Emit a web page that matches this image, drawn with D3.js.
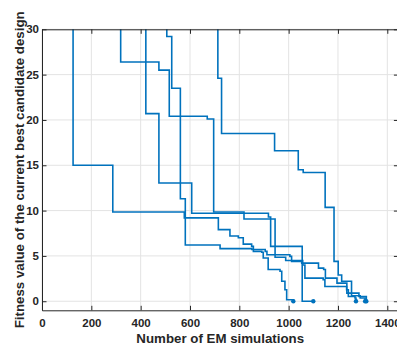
<!DOCTYPE html>
<html>
<head>
<meta charset="utf-8">
<script src="https://cdn.jsdelivr.net/npm/d3@7"></script>
<style>
  html, body { margin: 0; padding: 0; background: #fff; overflow: hidden; }
  svg { display: block; font-family: "Liberation Sans", Arial, sans-serif; }
</style>
</head>
<body>
<svg id="chart" width="397" height="347"></svg>
<script>
// Optimisation runs: [number of EM simulations, fitness of current best design]
const run1 = [[126,31],[126,15.0],[287,9.85],[577,9.2],[715,7.9],[762,7.2],[796,7.0],[816,6.3],[850,6.05],[857,5.5],[891,5.4],[897,4.77],[917,3.5],[965,3.3],[972,2.2],[985,1.27],[992,0.17],[1019,0]];
const run2 = [[319,31],[319,26.4],[474,25.5],[516,20.4],[670,20.1],[696,9.85],[819,9.07],[945,4.85],[988,4.5],[1057,4.0],[1066,2.55],[1140,2.37],[1147,1.63],[1235,1.27],[1242,0.53],[1269,0.35],[1273,0]];
const run3 = [[421,31],[421,20.7],[474,13.05],[607,9.7],[918,9.3],[927,6.05],[1055,0],[1100,0]];
const run4 = [[506,31],[506,29.2],[526,23.5],[561,11.3],[581,6.2],[722,5.8],[851,5.7],[905,5.5],[912,5.13],[1005,4.95],[1012,4.4],[1053,4.2],[1121,3.65],[1142,3.5],[1149,2.55],[1196,2.0],[1236,0.9],[1285,0.53],[1315,0]];
const run5 = [[713,31],[713,24.6],[728,18.5],[943,16.6],[1039,14.5],[1059,14.2],[1148,10.35],[1184,4.4],[1201,2.9],[1215,2.2],[1255,0.6],[1290,0.35],[1310,0]];
const runs = [run1, run2, run3, run4, run5];

const xTicks = [0, 200, 400, 600, 800, 1000, 1200, 1400];
const yTicks = [0, 5, 10, 15, 20, 25, 30];
const xTitle = "Number of EM simulations";
const yTitle = "Fitness value of the current best candidate design";

const axisColor = "#262626";
const gridColor = "#e3e3e3";
const lineColor = "#0072BD";

const plotLeft = 42, plotRight = 398.4, plotTop = 29.3, plotBottom = 310.3;

const svg = d3.select("#chart");
const x = d3.scaleLinear().domain([0, 1445]).range([plotLeft, plotRight]);
const y = d3.scaleLinear().domain([-1, 30]).range([plotBottom, plotTop]);

svg.append("defs").append("clipPath").attr("id", "plotClip")
  .append("rect").attr("x", plotLeft).attr("y", plotTop)
  .attr("width", plotRight - plotLeft).attr("height", plotBottom - plotTop);

// grid
const grid = svg.append("g");
grid.selectAll(".gx").data(xTicks).join("line")
  .attr("x1", d => x(d)).attr("x2", d => x(d))
  .attr("y1", plotTop).attr("y2", plotBottom)
  .attr("stroke", gridColor).attr("stroke-width", 1);
grid.selectAll(".gy").data(yTicks).join("line")
  .attr("x1", plotLeft).attr("x2", plotRight)
  .attr("y1", d => y(d)).attr("y2", d => y(d))
  .attr("stroke", gridColor).attr("stroke-width", 1);

// runs
const line = d3.line().x(d => x(d[0])).y(d => y(d[1])).curve(d3.curveStepAfter);
const plot = svg.append("g").attr("clip-path", "url(#plotClip)");
plot.selectAll("path.run").data(runs).join("path")
  .attr("class", "run")
  .attr("d", line)
  .attr("fill", "none")
  .attr("stroke", lineColor)
  .attr("stroke-width", 1.6);
plot.selectAll("circle.end").data(runs).join("circle")
  .attr("class", "end")
  .attr("cx", d => x(d[d.length - 1][0]))
  .attr("cy", d => y(d[d.length - 1][1]))
  .attr("r", 2.2)
  .attr("fill", lineColor);

// axes (ticks pointing inward, box on)
function styleAxis(g) {
  g.selectAll("path.domain").attr("stroke", axisColor).attr("stroke-width", 1);
  g.selectAll(".tick line").attr("stroke", axisColor).attr("stroke-width", 1);
  g.selectAll(".tick text").attr("fill", axisColor)
    .style("font-size", "11.5px").style("font-weight", "bold")
    .style("font-family", "'Liberation Sans', Arial, sans-serif");
}

const intFmt = d3.format("d");
svg.append("g").attr("transform", `translate(0,${plotBottom})`)
  .call(d3.axisBottom(x).tickValues(xTicks).tickFormat(intFmt).tickSizeInner(-4.5).tickSizeOuter(0).tickPadding(9))
  .call(styleAxis);
svg.append("g").attr("transform", `translate(0,${plotTop})`)
  .call(d3.axisTop(x).tickValues(xTicks).tickSizeInner(-4.5).tickSizeOuter(0).tickFormat(""))
  .call(styleAxis);
svg.append("g").attr("transform", `translate(${plotLeft},0)`)
  .call(d3.axisLeft(y).tickValues(yTicks).tickFormat(intFmt).tickSizeInner(-4.5).tickSizeOuter(0).tickPadding(3))
  .call(styleAxis);
svg.append("g").attr("transform", `translate(${plotRight},0)`)
  .call(d3.axisRight(y).tickValues(yTicks).tickSizeInner(-4.5).tickSizeOuter(0).tickFormat(""))
  .call(styleAxis);

// titles
svg.append("text")
  .attr("x", (plotLeft + plotRight) / 2).attr("y", 343)
  .attr("text-anchor", "middle")
  .attr("fill", axisColor)
  .style("font-size", "13.3px").style("font-weight", "bold")
  .text(xTitle);
svg.append("text")
  .attr("transform", `translate(23.5,${(plotTop + plotBottom) / 2}) rotate(-90)`)
  .attr("text-anchor", "middle")
  .attr("fill", axisColor)
  .style("font-size", "13.3px").style("font-weight", "bold")
  .text(yTitle);
</script>
</body>
</html>
